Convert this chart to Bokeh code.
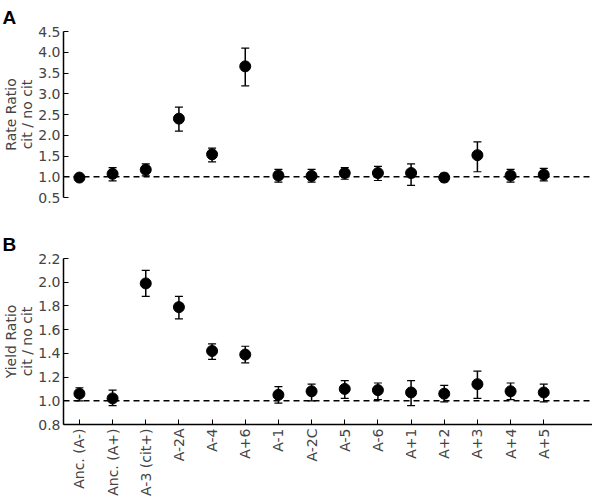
import math
from bokeh.plotting import figure
from bokeh.layouts import column
from bokeh.models import ColumnDataSource, Whisker, TeeHead, Span, FixedTicker, PrintfTickFormatter
from bokeh.embed import file_html
from bokeh.resources import INLINE

categories = ["Anc. (A-)", "Anc. (A+)", "A-3 (cit+)", "A-2A", "A-4", "A+6", "A-1",
              "A-2C", "A-5", "A-6", "A+1", "A+2", "A+3", "A+4", "A+5"]

rate = [0.98, 1.07, 1.17, 2.40, 1.54, 3.66, 1.03, 1.02, 1.09, 1.09, 1.09, 0.98, 1.52, 1.03, 1.05]
rate_lo = [0.94, 0.90, 1.02, 2.10, 1.36, 3.19, 0.87, 0.87, 0.94, 0.91, 0.79, 0.88, 1.12, 0.87, 0.90]
rate_hi = [1.02, 1.22, 1.31, 2.68, 1.69, 4.10, 1.18, 1.18, 1.22, 1.25, 1.31, 1.08, 1.84, 1.18, 1.20]

yld = [1.06, 1.02, 1.99, 1.79, 1.42, 1.39, 1.05, 1.08, 1.10, 1.09, 1.07, 1.06, 1.14, 1.08, 1.07]
yld_lo = [1.00, 0.96, 1.88, 1.69, 1.35, 1.32, 0.98, 1.00, 1.02, 1.01, 0.96, 0.99, 1.02, 1.01, 0.99]
yld_hi = [1.11, 1.09, 2.10, 1.88, 1.48, 1.46, 1.12, 1.14, 1.17, 1.15, 1.17, 1.13, 1.25, 1.15, 1.14]

y_ticks_a = [0.5, 1.0, 1.5, 2.0, 2.5, 3.0, 3.5, 4.0, 4.5]
y_ticks_b = [0.8, 1.0, 1.2, 1.4, 1.6, 1.8, 2.0, 2.2]

positions = list(range(len(categories)))
FONT = "DejaVu Sans"


def make_panel(letter, vals, lo, hi, yrange, yticks, ylabel, top, bottom, show_x):
    p = figure(frame_width=529, frame_height=166, output_backend="svg", toolbar_location=None,
               x_range=(-0.48, 15.47), y_range=yrange,
               x_axis_location="below" if show_x else None,
               title=letter, title_location="above",
               min_border_left=58, min_border_right=0, min_border_top=top, min_border_bottom=bottom)
    p.outline_line_color = None
    p.grid.visible = False
    p.background_fill_color = "white"
    p.border_fill_color = "white"

    t = p.title
    t.align = "left"
    t.offset = -61
    t.text_font = "Liberation Sans"
    t.text_font_style = "bold"
    t.text_font_size = "19px"
    t.text_color = "black"
    t.standoff = 8

    src = ColumnDataSource(dict(x=positions, y=vals, lo=lo, hi=hi))
    p.add_layout(Span(location=1.0, dimension="width", line_dash="6 4",
                      line_width=1.5, line_color="black"))
    p.add_layout(Whisker(base="x", upper="hi", lower="lo", source=src,
                         line_color="black", line_width=1.5,
                         upper_head=TeeHead(size=8, line_width=1.2, line_color="black"),
                         lower_head=TeeHead(size=8, line_width=1.2, line_color="black")))
    p.scatter("x", "y", source=src, size=11, color="black")

    ax = p.yaxis[0]
    ax.ticker = FixedTicker(ticks=yticks)
    ax.formatter = PrintfTickFormatter(format="%.1f")
    ax.axis_label = ylabel
    ax.axis_label_text_font = FONT
    ax.axis_label_text_font_style = "normal"
    ax.axis_label_text_font_size = "14px"
    ax.axis_label_text_line_height = 1.0
    ax.axis_label_standoff = 0
    ax.major_label_text_font = FONT
    ax.major_label_text_font_size = "14px"
    ax.major_label_standoff = 3
    ax.major_tick_in = 5
    ax.major_tick_out = 0
    ax.minor_tick_in = 0
    ax.minor_tick_out = 0
    ax.axis_line_width = 1.5
    ax.major_tick_line_width = 1

    if show_x:
        xa = p.xaxis[0]
        xa.ticker = FixedTicker(ticks=positions)
        xa.major_label_overrides = {i: c for i, c in zip(positions, categories)}
        xa.major_label_orientation = math.pi / 2
        xa.major_label_text_font = FONT
        xa.major_label_text_font_size = "14px"
        xa.major_label_standoff = 4
        xa.major_tick_in = 5
        xa.major_tick_out = 0
        xa.minor_tick_in = 0
        xa.minor_tick_out = 0
        xa.axis_line_width = 1.5

    return p


pa = make_panel("A", rate, rate_lo, rate_hi, (0.5, 4.5), y_ticks_a,
                "Rate Ratio\ncit / no cit", 28, 14, False)
pb = make_panel("B", yld, yld_lo, yld_hi, (0.8, 2.2), y_ticks_b,
                "Yield Ratio\ncit / no cit", 47, 60, True)

layout = column(pa, pb, spacing=0)
open("out.html", "w").write(file_html(layout, INLINE))
